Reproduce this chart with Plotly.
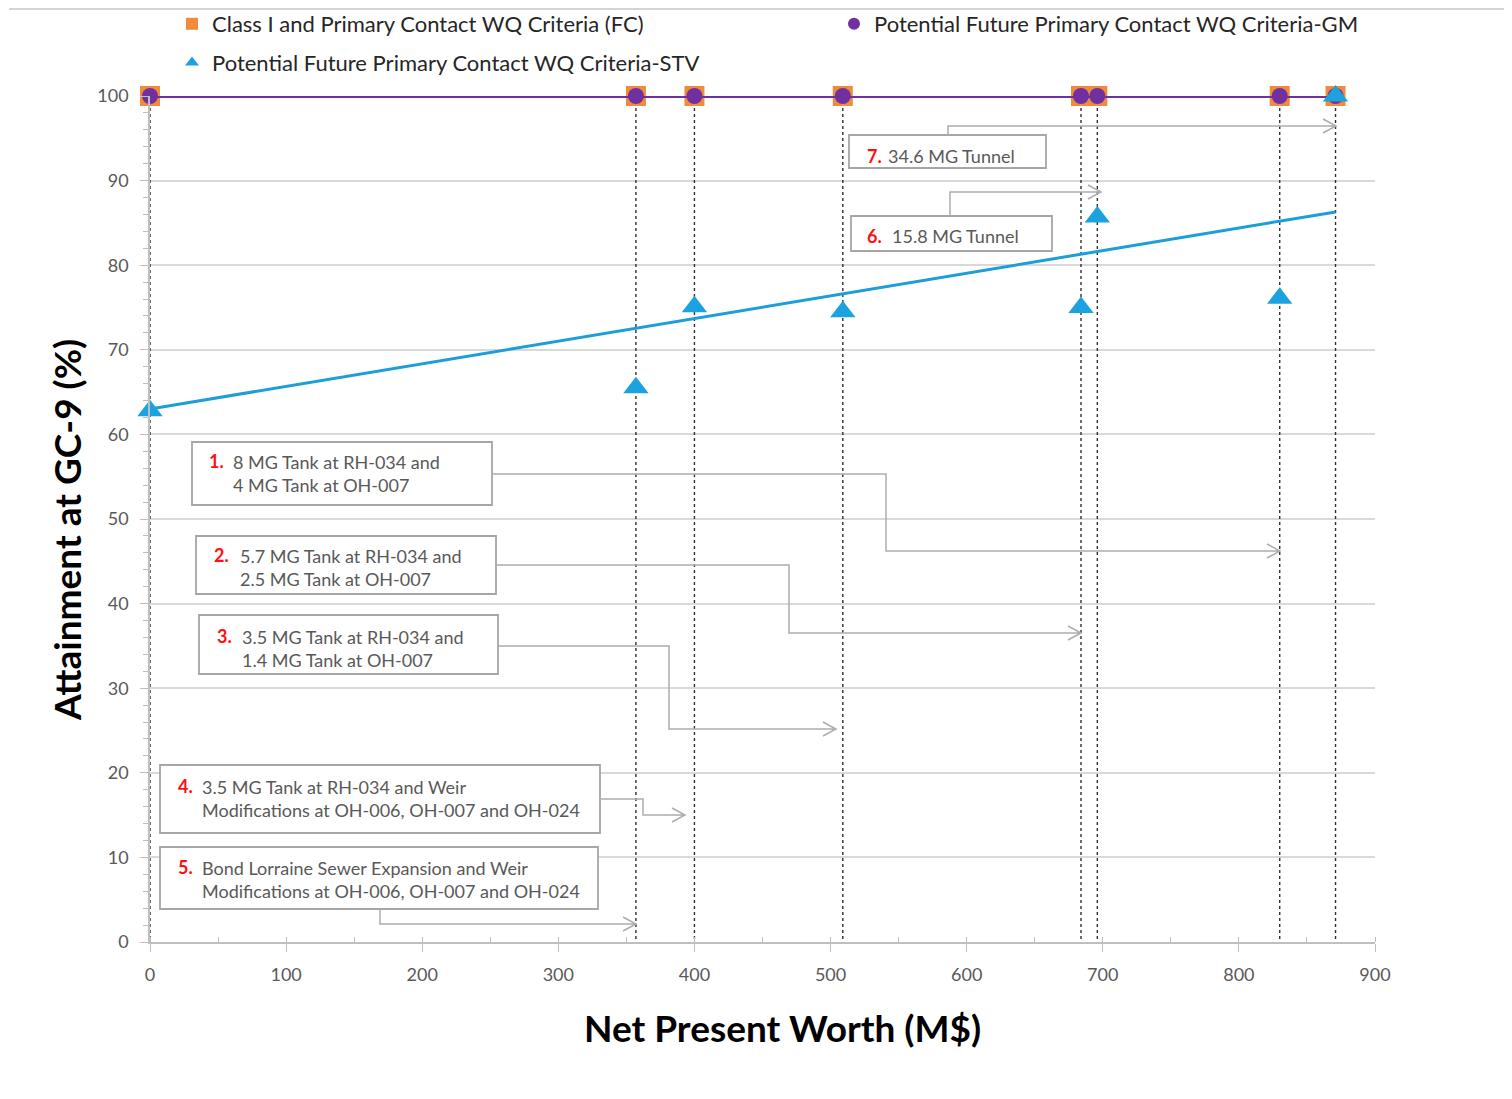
import plotly.graph_objects as go

# ---------------- data ----------------
npw = [0, 357, 400, 509, 684, 696, 830, 871]            # Net Present Worth (M$)
fc_attain = [100, 100, 100, 100, 100, 100, 100, 100]     # Class I and Primary Contact (FC)
gm_attain = [100, 100, 100, 100, 100, 100, 100, 100]     # Potential Future - GM
stv_attain = [62.8, 65.5, 75.1, 74.5, 75.0, 85.7, 76.1, 100]  # Potential Future - STV
trend_x = [0, 871]
trend_y = [63.0, 86.3]

x_ticks = [0, 100, 200, 300, 400, 500, 600, 700, 800, 900]
y_ticks = [0, 10, 20, 30, 40, 50, 60, 70, 80, 90, 100]

series_names = [
    "Class I and Primary Contact WQ Criteria (FC)",
    "Potential Future Primary Contact WQ Criteria-GM",
    "Potential Future Primary Contact WQ Criteria-STV",
]

option_numbers = ["1.", "2.", "3.", "4.", "5.", "6.", "7."]
option_texts = [
    "8 MG Tank at RH-034 and<br>4 MG Tank at OH-007",
    "5.7 MG Tank at RH-034 and<br>2.5 MG Tank at OH-007",
    "3.5 MG Tank at RH-034 and<br>1.4 MG Tank at OH-007",
    "3.5 MG Tank at RH-034 and Weir<br>Modifications at OH-006, OH-007 and OH-024",
    "Bond Lorraine Sewer Expansion and Weir<br>Modifications at OH-006, OH-007 and OH-024",
    "15.8 MG Tunnel",
    "34.6 MG Tunnel",
]

# ---------------- style / layout geometry (pixels) ----------------
OFF = 8                      # page body margin of the html page
W, H = 1512 - OFF, 1099 - OFF
L, R, T, B = 150 - OFF, 137, 96 - OFF, 157
PW, PH = W - L - R, H - T - B
FONT = "Lato"
ORANGE = "#F08A3C"
PURPLE = "#7030A0"
BLUE = "#1DA2E0"
TREND = "#1E9ED8"
GRAY_TXT = "#595959"
BOX_LINE = "#A6A6A6"


def px(xp):
    """page pixel x -> paper fraction"""
    return (xp - 150) / PW


def py(yp):
    """page pixel y -> paper fraction"""
    return (942 - yp) / PH


# box rectangles (left, top, right, bottom) in pixels
boxes = [
    (192, 442, 492, 505),
    (196, 536, 496, 594),
    (199, 615, 498, 674),
    (160, 765, 600, 833),
    (160, 847, 598, 909),
    (851, 216, 1052, 251),
    (849, 135, 1046, 168),
]
# number x, text x, first line y, text centre y
label_pos = [
    (207, 231, 461, 473),
    (212, 238, 555, 567),
    (215, 240, 636, 648),
    (176, 200, 786, 798),
    (176, 200, 867, 879),
    (865, 890, 236, 236),
    (865, 886, 156, 156),
]
# connector polylines in pixels (last point = arrow tip)
connectors = [
    [(492, 474), (886, 474), (886, 551), (1280, 551)],
    [(496, 565), (789, 565), (789, 633), (1081, 633)],
    [(498, 646), (669, 646), (669, 729), (836, 729)],
    [(600, 799), (643, 799), (643, 815), (685, 815)],
    [(380, 909), (380, 924), (636, 924)],
    [(950, 216), (950, 192), (1101, 192)],
    [(948, 135), (948, 126), (1336, 126)],
]

fig = go.Figure()

# drop lines
drop_x, drop_y = [], []
for xv, top in zip(npw, fc_attain):
    drop_x += [xv, xv, None]
    drop_y += [top, 0, None]
fig.add_trace(go.Scatter(x=drop_x, y=drop_y, mode="lines", showlegend=False,
                         hoverinfo="skip",
                         line=dict(color="#303030", width=1.4, dash="dot")))

# linear trend of STV
fig.add_trace(go.Scatter(x=trend_x, y=trend_y, mode="lines", showlegend=False,
                         line=dict(color=TREND, width=3)))

# FC squares
fig.add_trace(go.Scatter(x=npw, y=fc_attain, mode="markers", name=series_names[0],
                         legend="legend", legendgroup="a", cliponaxis=False,
                         marker=dict(symbol="square", size=20, color=ORANGE)))
# GM line + circles
fig.add_trace(go.Scatter(x=npw, y=gm_attain, mode="lines", showlegend=False,
                         cliponaxis=False, line=dict(color=PURPLE, width=4)))
fig.add_trace(go.Scatter(x=npw, y=gm_attain, mode="markers", name=series_names[1],
                         legend="legend2", cliponaxis=False,
                         marker=dict(symbol="circle", size=16, color=PURPLE)))
# STV triangles
fig.add_trace(go.Scatter(x=npw, y=stv_attain, mode="markers", name=series_names[2],
                         legend="legend", legendgroup="b", cliponaxis=False,
                         marker=dict(symbol="triangle-up", size=22, color=BLUE)))

shapes = []
annotations = []

# page frame (top and right edges)
shapes.append(dict(type="path", xref="paper", yref="paper",
                   path=f"M {px(9)},{py(9)} L {px(1505)},{py(9)} L {px(1505)},{py(1099)}",
                   line=dict(color="#D4D4D4", width=2), layer="below"))

for (x0, y0, x1, y1) in boxes:
    shapes.append(dict(type="rect", xref="paper", yref="paper",
                       x0=px(x0), x1=px(x1), y0=py(y1), y1=py(y0),
                       line=dict(color=BOX_LINE, width=1.8),
                       fillcolor="white", layer="above"))

for pts in connectors:
    path = "M " + " L ".join(f"{px(a)},{py(b)}" for a, b in pts)
    tx, ty = pts[-1]
    path += f" M {px(tx - 13)},{py(ty - 7)} L {px(tx)},{py(ty)} L {px(tx - 13)},{py(ty + 7)}"
    shapes.append(dict(type="path", xref="paper", yref="paper", path=path,
                       line=dict(color="#ADADAD", width=1.5), layer="above"))

for num, txt, (nx, tx, ly, cy) in zip(option_numbers, option_texts, label_pos):
    annotations.append(dict(xref="paper", yref="paper", x=px(nx), y=py(ly),
                            xanchor="left", yanchor="middle", showarrow=False,
                            text=f"<b>{num}</b>",
                            font=dict(family=FONT, size=18, color="#FF1010")))
    annotations.append(dict(xref="paper", yref="paper", x=px(tx), y=py(cy),
                            xanchor="left", yanchor="middle", showarrow=False,
                            align="left", text=txt,
                            font=dict(family=FONT, size=18, color=GRAY_TXT)))

# axis titles
annotations.append(dict(xref="paper", yref="paper", x=px(782), y=py(1027),
                        xanchor="center", yanchor="middle", showarrow=False,
                        text="<b>Net Present Worth (M$)</b>",
                        font=dict(family=FONT, size=37, color="#000000")))
annotations.append(dict(xref="paper", yref="paper", x=px(66), y=py(530),
                        xanchor="center", yanchor="middle", showarrow=False,
                        textangle=-90, text="<b>Attainment at GC-9 (%)</b>",
                        font=dict(family=FONT, size=37, color="#000000")))

fig.update_layout(
    width=W, height=H,
    margin=dict(l=L, r=R, t=T, b=B, autoexpand=False),
    paper_bgcolor="white", plot_bgcolor="white",
    font=dict(family=FONT, color=GRAY_TXT),
    shapes=shapes, annotations=annotations,
    legend=dict(x=px(172), y=py(3), xanchor="left", yanchor="top",
                orientation="v", traceorder="grouped", tracegroupgap=7,
                itemsizing="constant", bgcolor="rgba(0,0,0,0)",
                font=dict(family=FONT, size=22, color="#262626")),
    legend2=dict(x=px(834), y=py(3), xanchor="left", yanchor="top",
                 orientation="v", itemsizing="constant", bgcolor="rgba(0,0,0,0)",
                 font=dict(family=FONT, size=22, color="#262626")),
    xaxis=dict(range=[0, 900], tickvals=x_ticks, showgrid=False, zeroline=False,
               showline=True, linecolor="#BFBFBF", linewidth=1.5,
               ticks="outside", ticklen=8, tickcolor="#BFBFBF", tickwidth=1.2,
               ticklabelstandoff=8,
               tickfont=dict(family=FONT, size=18, color=GRAY_TXT),
               minor=dict(dtick=50, ticks="inside", ticklen=5,
                          tickcolor="#BFBFBF", showgrid=False)),
    yaxis=dict(range=[0, 100], tickvals=y_ticks, showgrid=True,
               gridcolor="#D9D9D9", gridwidth=1.5, zeroline=False,
               showline=True, linecolor="#BFBFBF", linewidth=1.5,
               ticks="outside", ticklen=8, tickcolor="#BFBFBF", tickwidth=1.2,
               ticklabelstandoff=8,
               tickfont=dict(family=FONT, size=18, color=GRAY_TXT),
               minor=dict(dtick=2, ticks="outside", ticklen=5,
                          tickcolor="#BFBFBF", showgrid=False)),
)

fig.write_html("out.html")
